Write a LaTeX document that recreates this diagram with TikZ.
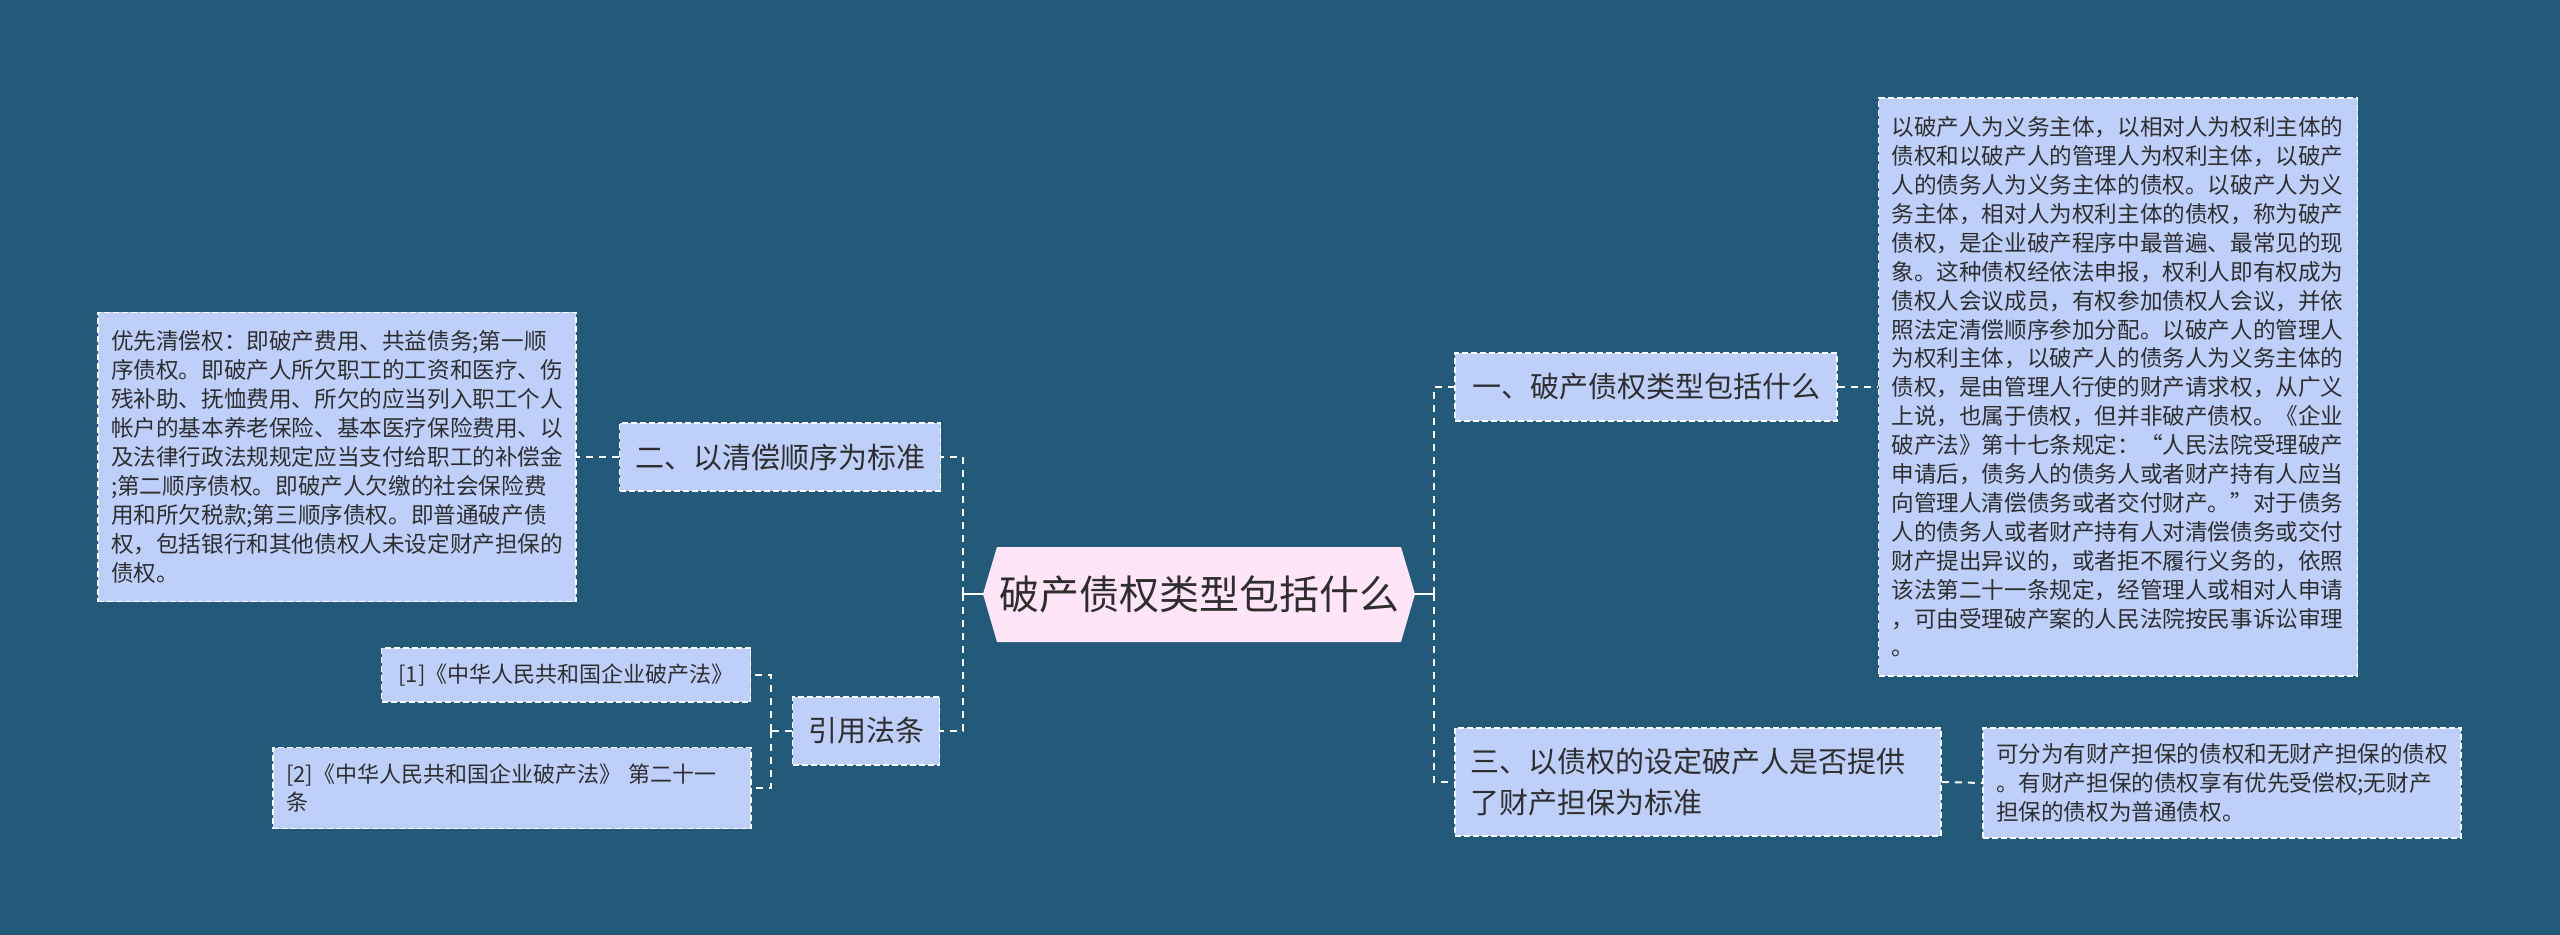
\documentclass[tikz,border=0pt]{standalone}
\usepackage{fontspec}
\setmainfont{Noto Sans CJK SC}
\definecolor{bgblue}{HTML}{235A7A}
\definecolor{boxblue}{HTML}{BED0FA}
\definecolor{rootpink}{HTML}{FFE5F7}
\definecolor{ink}{HTML}{2E2E2E}
\tikzset{
  topic/.style={draw=white, dash pattern=on 3pt off 1.5pt, line width=0.8pt, fill=boxblue, text=ink,
    font=\fontsize{14.5}{20.5}\selectfont, minimum height=34pt, inner xsep=7.5pt},
  leaf/.style={draw=white, dash pattern=on 3pt off 1.5pt, line width=0.8pt, fill=boxblue, text=ink,
    font=\fontsize{11.3}{14.45}\selectfont, align=left, inner xsep=6.5pt},
  link/.style={white, line width=1pt, dash pattern=on 3.5pt off 3pt},
  stub/.style={white, line width=1pt},
}
\begin{document}
\begin{tikzpicture}[x=0.5pt, y=-0.5pt]
\fill[bgblue] (0,0) rectangle (2560,935);
\useasboundingbox (0,0) rectangle (2560,935);

% centre (hexagon drawn behind the node)
\fill[rootpink] (983,594) -- (997,547) -- (1401,547) -- (1415,594) -- (1401,642) -- (997,642) -- cycle;
\node[text=ink, font=\fontsize{20}{24}\selectfont, minimum width=216pt, minimum height=47.5pt, inner sep=0pt]
  (root) at (1199,594) {破产债权类型包括什么};

% right side
\node[topic, minimum width=191pt] (kinds) at (1646,387) {一、破产债权类型包括什么};
\node[topic, minimum height=54pt, text width=228pt, align=left] (secured) at (1698,782)
  {三、以债权的设定破产人是否提供\\了财产担保为标准};
\node[leaf, text width=226.5pt, minimum height=289pt] (kindstxt) at (2118,387)
  {以破产人为义务主体，以相对人为权利主体的\\
   债权和以破产人的管理人为权利主体，以破产\\
   人的债务人为义务主体的债权。以破产人为义\\
   务主体，相对人为权利主体的债权，称为破产\\
   债权，是企业破产程序中最普遍、最常见的现\\
   象。这种债权经依法申报，权利人即有权成为\\
   债权人会议成员，有权参加债权人会议，并依\\
   照法定清偿顺序参加分配。以破产人的管理人\\
   为权利主体，以破产人的债务人为义务主体的\\
   债权，是由管理人行使的财产请求权，从广义\\
   上说，也属于债权，但并非破产债权。《企业\\
   破产法》第十七条规定：“人民法院受理破产\\
   申请后，债务人的债务人或者财产持有人应当\\
   向管理人清偿债务或者交付财产。”对于债务\\
   人的债务人或者财产持有人对清偿债务或交付\\
   财产提出异议的，或者拒不履行义务的，依照\\
   该法第二十一条规定，经管理人或相对人申请\\
   ，可由受理破产案的人民法院按民事诉讼审理\\
   。};
\node[leaf, text width=226pt, minimum height=55pt] (securedtxt) at (2222,783)
  {可分为有财产担保的债权和无财产担保的债权\\
   。有财产担保的债权享有优先受偿权;无财产\\
   担保的债权为普通债权。};

% left side
\node[topic, minimum width=160.5pt] (order) at (780,457) {二、以清偿顺序为标准};
\node[topic, minimum width=73.5pt] (law) at (866,731) {引用法条};
\node[leaf, text width=226pt, minimum height=144.5pt] (ordertxt) at (337,457)
  {优先清偿权：即破产费用、共益债务;第一顺\\
   序债权。即破产人所欠职工的工资和医疗、伤\\
   残补助、抚恤费用、所欠的应当列入职工个人\\
   帐户的基本养老保险、基本医疗保险费用、以\\
   及法律行政法规规定应当支付给职工的补偿金\\
   ;第二顺序债权。即破产人欠缴的社会保险费\\
   用和所欠税款;第三顺序债权。即普通破产债\\
   权，包括银行和其他债权人未设定财产担保的\\
   债权。};
\node[leaf, font=\fontsize{11}{14.45}\selectfont, minimum width=184.5pt, minimum height=27pt] (ref1) at (566,675)
  {[1]《中华人民共和国企业破产法》};
\node[leaf, font=\fontsize{11}{14.45}\selectfont, text width=226pt, minimum height=40.5pt] (ref2) at (512,788)
  {[2]《中华人民共和国企业破产法》 第二十一\\条};

% connectors
\coordinate (rspine) at (1434,594);
\coordinate (lspine) at (963,594);
\coordinate (lawspine) at (771,731);
\draw[stub] (root.east) -- (rspine);
\draw[link] (rspine) |- (kinds.west);
\draw[link] (rspine) |- (secured.west);
\draw[link] (kinds.east) -- (kindstxt.west);
\draw[link] (secured.east) -- (securedtxt.west);
\draw[stub] (root.west) -- (lspine);
\draw[link] (lspine) |- (order.east);
\draw[link] (lspine) |- (law.east);
\draw[link] (order.west) -- (ordertxt.east);
\draw[link] (law.west) -- (lawspine);
\draw[link] (lawspine) |- (ref1.east);
\draw[link] (lawspine) |- (ref2.east);
\end{tikzpicture}
\end{document}
